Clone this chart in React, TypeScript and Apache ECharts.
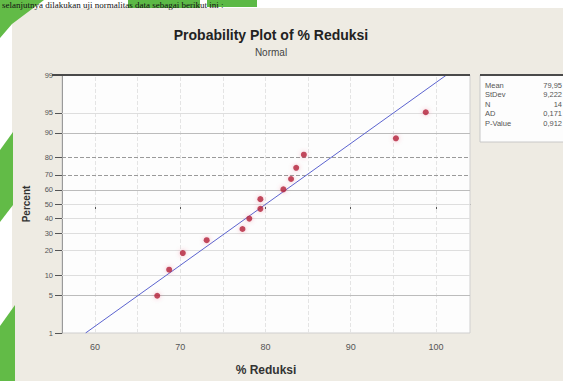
import React, { useEffect, useRef } from "react";
import * as echarts from "echarts";

// Data
const reduksi = [67.3, 68.7, 70.3, 73.1, 77.3, 78.1, 79.4, 79.4, 82.1, 83.0, 83.6, 84.5, 95.3, 98.8];
const percentPoints = [4.9, 11.8, 18.8, 25.7, 32.6, 39.6, 46.5, 53.5, 60.4, 67.4, 74.3, 81.3, 88.2, 95.1];
const percentTicks = [1, 5, 10, 20, 30, 40, 50, 60, 70, 80, 90, 95, 99];
const xTicks = [60, 70, 80, 90, 100];
const xGridValues = [60, 65, 70, 75, 80, 85, 90, 95, 100];
const statLabels = ["Mean", "StDev", "N", "AD", "P-Value"];
const statValues = ["79,95", "9,222", "14", "0,171", "0,912"];

// inverse normal CDF (probability-scale transform of the axis)
function normInv(p: number): number {
  const a = [-3.969683028665376e1, 2.209460984245205e2, -2.759285104469687e2, 1.38357751867269e2, -3.066479806614716e1, 2.506628277459239];
  const b = [-5.447609879822406e1, 1.615858368580409e2, -1.556989798598866e2, 6.680131188771972e1, -1.328068155288572e1];
  const c = [-7.784894002430293e-3, -3.223964580411365e-1, -2.400758277161838, -2.549732539343734, 4.374664141464968, 2.938163982120073];
  const d = [7.784695709041462e-3, 3.224671290700398e-1, 2.445134137142996, 3.754408661907416];
  const pl = 0.02425;
  let q: number, r: number;
  if (p < pl) {
    q = Math.sqrt(-2 * Math.log(p));
    return (((((c[0] * q + c[1]) * q + c[2]) * q + c[3]) * q + c[4]) * q + c[5]) / ((((d[0] * q + d[1]) * q + d[2]) * q + d[3]) * q + 1);
  }
  if (p <= 1 - pl) {
    q = p - 0.5;
    r = q * q;
    return ((((((a[0] * r + a[1]) * r + a[2]) * r + a[3]) * r + a[4]) * r + a[5]) * q) / (((((b[0] * r + b[1]) * r + b[2]) * r + b[3]) * r + b[4]) * r + 1);
  }
  q = Math.sqrt(-2 * Math.log(1 - p));
  return -(((((c[0] * q + c[1]) * q + c[2]) * q + c[3]) * q + c[4]) * q + c[5]) / ((((d[0] * q + d[1]) * q + d[2]) * q + d[3]) * q + 1);
}

const FONT = "Liberation Sans";

export default function App() {
  const ref = useRef<HTMLDivElement>(null);

  useEffect(() => {
    if (!ref.current) return;
    const chart = echarts.init(ref.current, null, { renderer: "svg" });

    const zTicks = percentTicks.map((p) => normInv(p / 100));
    const zMin = zTicks[0];
    const zMax = zTicks[zTicks.length - 1];
    const n = reduksi.length;
    const mean = reduksi.reduce((s, v) => s + v, 0) / n;
    const sd = Math.sqrt(reduksi.reduce((s, v) => s + (v - mean) * (v - mean), 0) / (n - 1));

    const hStyle = (p: number) => {
      if (p === 80 || p === 70) return { color: "#9a9a9a", type: "dashed" as const, width: 1 };
      if (p === 90 || p === 60 || p === 5) return { color: "#bcbcbc", type: "solid" as const, width: 1 };
      return { color: "#dedede", type: "solid" as const, width: 1 };
    };

    const gridLines = [
      ...xGridValues.map((v) => ({ xAxis: v, lineStyle: { color: "#e4e4e4", type: "dashed" as const, width: 1 } })),
      ...percentTicks.slice(1, -1).map((p) => ({ yAxis: normInv(p / 100), lineStyle: hStyle(p) })),
    ];

    const statGraphics: any[] = [];
    statLabels.forEach((lab, i) => {
      const y = 85 + i * 9.5;
      statGraphics.push({
        type: "text",
        x: 485,
        y,
        z: 20,
        style: { text: lab, fontSize: 7.5, fontFamily: FONT, fill: "#555555", verticalAlign: "middle", align: "left" },
      });
      statGraphics.push({
        type: "text",
        x: 562,
        y,
        z: 20,
        style: { text: statValues[i], fontSize: 7.5, fontFamily: FONT, fill: "#555555", verticalAlign: "middle", align: "right" },
      });
    });

    chart.setOption({
      animation: false,
      grid: {
        left: 62,
        top: 75,
        width: 408,
        height: 264,
        show: true,
        backgroundColor: "#fdfdfd",
        borderColor: "#cfcfcf",
        borderWidth: 1,
      },
      xAxis: {
        type: "value",
        min: 56.13,
        max: 103.99,
        name: "% Reduksi",
        nameLocation: "middle",
        nameGap: 31,
        nameTextStyle: { fontSize: 12, fontWeight: "bold", color: "#333", fontFamily: FONT },
        axisLine: { show: true, lineStyle: { color: "#8a8a8a", width: 1 } },
        axisTick: { show: true, customValues: xTicks, length: 6, lineStyle: { color: "#555" } },
        axisLabel: { customValues: xTicks, fontSize: 9, color: "#555", margin: 9, fontFamily: FONT },
        splitLine: { show: false },
      },
      yAxis: {
        type: "value",
        min: zMin,
        max: zMax,
        name: "Percent",
        nameLocation: "middle",
        nameGap: 31,
        nameRotate: 90,
        nameTextStyle: { fontSize: 10, fontWeight: "bold", color: "#333", fontFamily: FONT },
        axisLine: { show: true, lineStyle: { color: "#9a9a9a", width: 1 } },
        axisTick: { show: true, customValues: zTicks, length: 7, lineStyle: { color: "#555" } },
        axisLabel: {
          customValues: zTicks,
          fontSize: 7.5,
          color: "#555",
          margin: 9,
          fontFamily: FONT,
          formatter: (v: number) => {
            let best = percentTicks[0];
            let bd = Infinity;
            percentTicks.forEach((p) => {
              const dd = Math.abs(normInv(p / 100) - v);
              if (dd < bd) {
                bd = dd;
                best = p;
              }
            });
            return String(best);
          },
        },
        splitLine: { show: false },
      },
      series: [
        {
          type: "line",
          data: [],
          z: 1,
          silent: true,
          markLine: {
            silent: true,
            symbol: "none",
            label: { show: false },
            z: 1,
            data: gridLines,
          },
        },
        {
          type: "line",
          data: [
            [mean + zMin * sd, zMin],
            [mean + zMax * sd, zMax],
          ],
          showSymbol: false,
          symbol: "none",
          clip: true,
          z: 3,
          lineStyle: { color: "#5b63cf", width: 1 },
          silent: true,
        },
        {
          type: "scatter",
          data: reduksi.map((v, i) => [v, normInv(percentPoints[i] / 100)]),
          symbol: "circle",
          symbolSize: 6,
          z: 4,
          itemStyle: { color: "#b3203a", shadowColor: "rgba(230,80,110,0.5)", shadowBlur: 4 },
        },
      ],
      graphic: [
        // green page decorations on the left
        { type: "polygon", z: 5, shape: { points: [[0, 0], [44, 0], [32, 9], [12, 24], [0, 38]] }, style: { fill: "#62bb47" } },
        { type: "polygon", z: 5, shape: { points: [[0, 150], [13, 132], [13, 205], [0, 222]] }, style: { fill: "#62bb47" } },
        { type: "polygon", z: 5, shape: { points: [[0, 326], [15, 305], [15, 381], [0, 381]] }, style: { fill: "#62bb47" } },
        // highlights behind two words of the document text
        { type: "polygon", z: 5, shape: { points: [[128, 0], [200, 0], [200, 8], [128, 8]] }, style: { fill: "#5cb946" } },
        { type: "polygon", z: 5, shape: { points: [[207, 0], [257, 0], [257, 7], [207, 7]] }, style: { fill: "#5cb946" } },
        {
          type: "text",
          x: 2,
          y: 0,
          z: 6,
          style: {
            text: "selanjutnya dilakukan uji normalitas data sebagai berikut ini :",
            fontSize: 9,
            fontFamily: "Liberation Serif",
            fill: "#111",
            verticalAlign: "top",
            align: "left",
          },
        },
        // title
        {
          type: "text",
          x: 271,
          y: 35,
          z: 6,
          style: {
            text: "Probability Plot of % Reduksi",
            fontSize: 14,
            fontWeight: "bold",
            fontFamily: FONT,
            fill: "#222",
            align: "center",
            verticalAlign: "middle",
          },
        },
        {
          type: "text",
          x: 271,
          y: 52,
          z: 6,
          style: { text: "Normal", fontSize: 10, fontFamily: FONT, fill: "#444", align: "center", verticalAlign: "middle" },
        },
        // thick top frame line
        { type: "line", z: 10, shape: { x1: 52, y1: 75, x2: 470, y2: 75 }, style: { stroke: "#4a4a4a", lineWidth: 2 } },
        // stats box
        { type: "rect", z: 8, shape: { x: 480, y: 75, width: 95, height: 67 }, style: { fill: "#fdfdfd", stroke: "#c8c8c8", lineWidth: 1 } },
        { type: "line", z: 10, shape: { x1: 480, y1: 75, x2: 563, y2: 75 }, style: { stroke: "#4a4a4a", lineWidth: 2 } },
        ...statGraphics,
      ],
    });

    return () => chart.dispose();
  }, []);

  return (
    <div style={{ position: "fixed", left: 0, top: 0, width: 563, height: 381, background: "#ffffff", overflow: "hidden" }}>
      <div style={{ position: "absolute", left: 12, top: 8, width: 551, height: 373, background: "#eeebe3" }} />
      <div ref={ref} style={{ position: "absolute", left: 0, top: 0, width: 563, height: 381 }} />
    </div>
  );
}
